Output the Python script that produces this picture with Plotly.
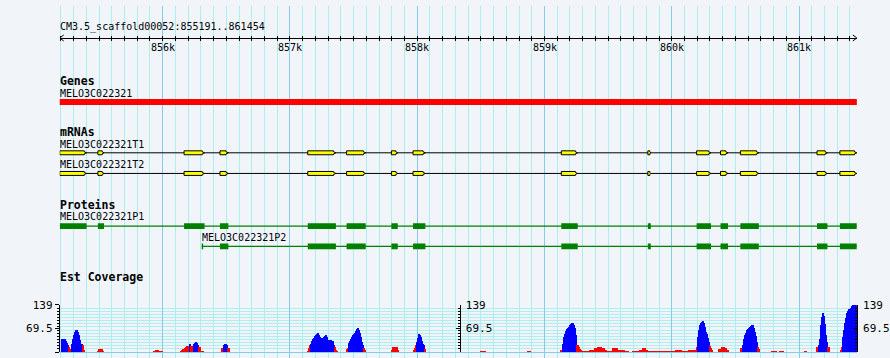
import plotly.graph_objects as go

W, H = 890, 358

# ---------------- data ----------------
REGION_NAME = "CM3.5_scaffold00052"
REGION_START = 855191
REGION_END = 861454

ruler_tick_vals = [856000, 857000, 858000, 859000, 860000, 861000]
ruler_tick_text = ["856k", "857k", "858k", "859k", "860k", "861k"]

gene_name = "MELO3C022321"
gene_start = 855185
gene_end = 861465

mrna_names = ["MELO3C022321T1", "MELO3C022321T2"]
exon_starts = [855191, 855491, 856168, 856450, 857140, 857445, 857797, 857967,
               859132, 859812, 860195, 860383, 860539, 861141, 861321]
exon_ends = [855402, 855539, 856329, 856516, 857361, 857595, 857847, 858064,
             859261, 859835, 860308, 860442, 860684, 861223, 861454]

protein_names = ["MELO3C022321P1", "MELO3C022321P2"]
p1_starts = [855191, 855491, 856168, 856450, 857140, 857445, 857797, 857967,
             859132, 859812, 860195, 860383, 860539, 861141, 861321]
p1_ends = [855402, 855539, 856329, 856516, 857361, 857595, 857847, 858064,
           859261, 859835, 860308, 860442, 860684, 861223, 861454]
p2_starts = [856307, 856450, 857140, 857445, 857797, 857967,
             859132, 859812, 860195, 860383, 860539, 861141, 861321]
p2_ends = [856318, 856516, 857361, 857595, 857847, 858064,
           859261, 859835, 860308, 860442, 860684, 861223, 861454]

est_bin_bp = 7.82
est_pivot = 21
est_max = 139
est_tick_vals = [0, 69.5, 139]
est_tick_text = ["0", "69.5", "139"]
est_seg_starts = [855199, 855488, 855926, 856137, 856458, 857138, 857443,
                  857795, 857967, 858491, 858866, 859124, 860367, 860539,
                  860782, 860844, 861040, 861133, 861321]
est_seg_values = [
    [38, 38, 38, 38, 38, 34, 28, 22, 14, 9, 9, 23, 40, 52, 60, 66, 66, 60, 50, 36, 23, 23, 20, 7],
    [5, 9, 9, 9, 9, 5],
    [3, 3, 6, 6, 6, 3, 3, 3, 3],
    [4, 6, 9, 10, 12, 14, 17, 17, 17, 23, 17, 17, 17, 23, 26, 29, 27, 22, 14, 14, 5, 5, 5],
    [13, 13, 22, 23, 23, 22, 12, 12],
    [4, 12, 20, 25, 33, 38, 42, 47, 50, 55, 58, 52, 44, 40, 41, 43, 45, 47, 50, 45,
     37, 35, 35, 35, 33, 32, 22, 14, 7, 4],
    [8, 13, 26, 33, 39, 45, 50, 55, 58, 62, 68, 71, 66, 56, 45, 30, 22, 12, 6],
    [7, 14, 14, 14, 14, 14, 7],
    [7, 13, 20, 31, 42, 55, 52, 45, 33, 25, 22, 8],
    [3, 3, 3, 3, 3, 3],
    [3, 3, 3],
    [7, 7, 25, 45, 55, 62, 67, 71, 75, 79, 83, 85, 87, 80, 70, 50, 20, 20, 14, 10, 6, 5,
     4, 4, 4, 4, 4, 4, 4,
     7, 7, 7, 7, 7,
     13, 13, 13,
     15, 15, 15, 15,
     12, 12, 12,
     7, 7,
     2, 2, 2, 2, 2, 2,
     12, 12, 12, 12, 12,
     7, 7, 7, 7, 7, 7, 7,
     4, 4, 4, 4,
     0, 0, 0, 0,
     4, 4, 4, 4, 4, 4, 4,
     7, 7, 7,
     12, 12, 12,
     7, 7,
     4, 4, 4, 4, 4, 4, 4, 4, 4, 4, 4, 4, 4, 4, 4, 4, 4, 4, 4, 4, 4, 4, 4, 4, 4, 4, 4, 4,
     7, 7, 7, 7, 7, 7, 7,
     4, 4, 4, 4, 4, 4, 4,
     6, 6, 6, 6, 6,
     7, 7, 7,
     16,
     45, 65, 79, 87, 90, 91, 87, 74, 60, 54, 43, 31, 19, 12, 7],
    [9, 9, 9, 16, 16, 16, 13, 13, 7, 7],
    [12, 12, 22, 40, 52, 58, 65, 68, 71, 75, 78, 81, 80, 72, 60, 48, 31, 14, 8],
    [3, 3, 3, 3, 3],
    [3, 3, 3, 3],
    [3, 3],
    [14, 14, 22, 40, 79, 103, 116, 108, 84, 50, 30, 14, 14],
    [7, 15, 45, 65, 85, 100, 115, 122, 126, 128, 131, 136, 139, 139, 139, 138, 137],
]

# ---------------- style / layout ----------------
BG = "#F1F5FA"
MINOR = "#AEEEEE"
MAJOR = "#86CBEA"
MONO = "DejaVu Sans Mono"
X0_PX, X1_PX = 60, 860.7

ROW_RULER = 32.5
ROW_RULER_LABEL = 42.5
ROW_GENE = 97.7
ROW_T = [149.3, 170.3]
ROW_P = [223.8, 244.4]
COV_TOP, COV_BOT = 304, 352

fig = go.Figure()


def boxes_path(starts, ends, c, h):
    xs, ys = [], []
    for s, e in zip(starts, ends):
        xs += [s, e, e, s, s, None]
        ys += [c - h, c - h, c + h, c + h, c - h, None]
    return xs, ys


def arrow_exons(starts, ends, c, h):
    xs, ys = [], []
    for s, e in zip(starts, ends):
        t = min(18, 0.3 * (e - s))
        xs += [s, e - t, e - t, e, e - t, e - t, s, s, None]
        ys += [c - h, c - h, c - 1, c, c + 1, c + h, c + h, c - h, None]
    return xs, ys


# gene bar
gx, gy = boxes_path([gene_start], [gene_end], ROW_GENE, 3)
fig.add_trace(go.Scatter(x=gx, y=gy, fill="toself", fillcolor="#FF0000", mode="lines",
                         line=dict(width=0, color="#FF0000"), xaxis="x", yaxis="y",
                         hoverinfo="skip"))

# mRNAs
for row in ROW_T:
    fig.add_trace(go.Scatter(x=[exon_starts[0], exon_ends[-1]], y=[row, row], mode="lines",
                             line=dict(color="black", width=1), xaxis="x", yaxis="y",
                             hoverinfo="skip"))
    ex, ey = arrow_exons(exon_starts, exon_ends, row, 2)
    fig.add_trace(go.Scatter(x=ex, y=ey, fill="toself", fillcolor="#FFFF00", mode="lines",
                             line=dict(color="black", width=1), xaxis="x", yaxis="y",
                             hoverinfo="skip"))

# proteins
for row, ss, ee in zip(ROW_P, [p1_starts, p2_starts], [p1_ends, p2_ends]):
    fig.add_trace(go.Scatter(x=[ss[0], ee[-1]], y=[row, row], mode="lines",
                             line=dict(color="#008000", width=1.2), xaxis="x", yaxis="y",
                             hoverinfo="skip"))
    px_, py_ = boxes_path(ss, ee, row, 2.9)
    fig.add_trace(go.Scatter(x=px_, y=py_, fill="toself", fillcolor="#008000", mode="lines",
                             line=dict(width=0, color="#008000"), xaxis="x", yaxis="y",
                             hoverinfo="skip"))

# coverage
est_x, est_y, est_c = [], [], []
for s, vals in zip(est_seg_starts, est_seg_values):
    for i, v in enumerate(vals):
        est_x.append(s + (i + 0.5) * est_bin_bp)
        est_y.append(v)
        est_c.append("#0000FF" if v >= est_pivot else "#FF0000")
fig.add_trace(go.Bar(x=est_x, y=est_y, width=est_bin_bp,
                     marker=dict(color=est_c, line=dict(width=0)),
                     xaxis="x", yaxis="y2", hoverinfo="skip"))
fig.add_trace(go.Scatter(x=[], y=[], xaxis="x", yaxis="y3", hoverinfo="skip"))
fig.add_trace(go.Scatter(x=[], y=[], xaxis="x", yaxis="y4", hoverinfo="skip"))

# ruler arrow heads
ah = 4 * (REGION_END - REGION_START) / (X1_PX - X0_PX)
fig.add_trace(go.Scatter(x=[REGION_START + ah, REGION_START, REGION_START + ah],
                         y=[ROW_RULER - 3, ROW_RULER, ROW_RULER + 3], mode="lines",
                         line=dict(color="black", width=1), xaxis="x2", yaxis="y",
                         hoverinfo="skip"))
fig.add_trace(go.Scatter(x=[REGION_END - ah, REGION_END, REGION_END - ah],
                         y=[ROW_RULER - 3, ROW_RULER, ROW_RULER + 3], mode="lines",
                         line=dict(color="black", width=1), xaxis="x3", yaxis="y",
                         hoverinfo="skip"))

xdom = [X0_PX / W, X1_PX / W]
xr = [REGION_START, REGION_END]
cov_dom = [(H - COV_BOT) / H, (H - COV_TOP) / H]
yr2 = [0, est_max + 0.05]
tickf = dict(family=MONO, size=11, color="black")

common_y = dict(range=yr2, tickmode="array", tickvals=est_tick_vals, ticktext=est_tick_text,
                tickfont=tickf, showline=True, linecolor="black", linewidth=1,
                tickcolor="black", showgrid=False, fixedrange=True)

fig.update_layout(
    width=W, height=H, autosize=False,
    margin=dict(l=0, r=0, t=0, b=0, pad=0),
    paper_bgcolor=BG, plot_bgcolor=BG,
    showlegend=False, bargap=0, barmode="overlay",
    xaxis=dict(domain=xdom, range=xr, anchor="y", tickmode="array", tickvals=ruler_tick_vals,
               showticklabels=False, ticks="", showgrid=True, gridcolor=MAJOR, gridwidth=1,
               zeroline=False, showline=False, fixedrange=True,
               minor=dict(tickmode="linear", tick0=0, dtick=100, showgrid=True,
                          gridcolor=MINOR, gridwidth=1, ticks="")),
    xaxis2=dict(overlaying="x", anchor="free", position=1 - ROW_RULER / H, side="bottom",
                domain=xdom, range=xr, tickmode="array", tickvals=ruler_tick_vals,
                showticklabels=False, ticks="outside", ticklen=2, tickcolor="black",
                showline=True, linecolor="black", linewidth=1, showgrid=False, zeroline=False,
                minor=dict(tickmode="linear", tick0=0, dtick=100, ticks="outside", ticklen=2,
                           tickcolor="black", showgrid=False)),
    xaxis3=dict(overlaying="x", anchor="free", position=1 - ROW_RULER / H, side="bottom",
                domain=xdom, range=xr, tickmode="array", tickvals=ruler_tick_vals,
                showticklabels=False, ticks="inside", ticklen=2, tickcolor="black",
                showline=False, showgrid=False, zeroline=False,
                minor=dict(tickmode="linear", tick0=0, dtick=100, ticks="inside", ticklen=2,
                           tickcolor="black", showgrid=False)),
    yaxis=dict(domain=[0, 1], range=[H, 0], visible=False, fixedrange=True),
    yaxis2=dict(domain=cov_dom, anchor="x", side="left", ticks="outside", ticklen=4,
                zeroline=True, zerolinecolor=MAJOR, zerolinewidth=1, ticklabelstandoff=0,
                minor=dict(tickmode="linear", tick0=0, dtick=est_max / 15, ticks="outside",
                           ticklen=2, tickcolor="black", showgrid=True, gridcolor=MINOR,
                           gridwidth=1),
                **common_y),
    yaxis3=dict(overlaying="y2", anchor="free", position=461.7 / W, side="right",
                ticks="inside", ticklen=4, zeroline=False, ticklabelstandoff=3,
                minor=dict(tickmode="linear", tick0=0, dtick=est_max / 15, ticks="inside",
                           ticklen=2, tickcolor="black", showgrid=False),
                **common_y),
    yaxis4=dict(overlaying="y2", anchor="free", position=X1_PX / W, side="right",
                ticks="inside", ticklen=4, zeroline=False, ticklabelstandoff=3,
                minor=dict(tickmode="linear", tick0=0, dtick=est_max / 15, ticks="inside",
                           ticklen=2, tickcolor="black", showgrid=False),
                **common_y),
)


def ann(text, x, y, xref, size=10, bold=False, xanchor="left"):
    fig.add_annotation(text=text, x=x, y=y, xref=xref, yref="y", xanchor=xanchor,
                       yanchor="middle", showarrow=False, borderpad=0, borderwidth=0,
                       font=dict(family=MONO, size=size, color="black",
                                 weight="bold" if bold else "normal"))


for tv, tt in zip(ruler_tick_vals, ruler_tick_text):
    ann(tt, tv, ROW_RULER_LABEL, "x", xanchor="center")

ann(f"{REGION_NAME}:{REGION_START}..{REGION_END}", 60.5 / W, 21.5, "paper")
ann("Genes", 60 / W, 76.5, "paper", 11.5, True)
ann(gene_name, 60.5 / W, 88.5, "paper")
ann("mRNAs", 60 / W, 128.5, "paper", 11.5, True)
ann(mrna_names[0], 60.5 / W, 140.5, "paper")
ann(mrna_names[1], 60.5 / W, 161, "paper")
ann("Proteins", 60 / W, 202, "paper", 11.5, True)
ann(protein_names[0], 60.5 / W, 214.5, "paper")
ann(protein_names[1], p2_starts[0], 235, "x")
ann("Est Coverage", 60 / W, 276, "paper", 11.5, True)

fig.write_html(
    "out.html", config={"displayModeBar": False},
    post_script=("document.documentElement.style.margin='0';"
                 "document.body.style.margin='0';document.body.style.padding='0';"
                 "document.body.style.overflow='hidden';"
                 "var d=document.getElementById('{plot_id}');"
                 "d.style.position='fixed';d.style.top='0px';d.style.left='0px';"))
